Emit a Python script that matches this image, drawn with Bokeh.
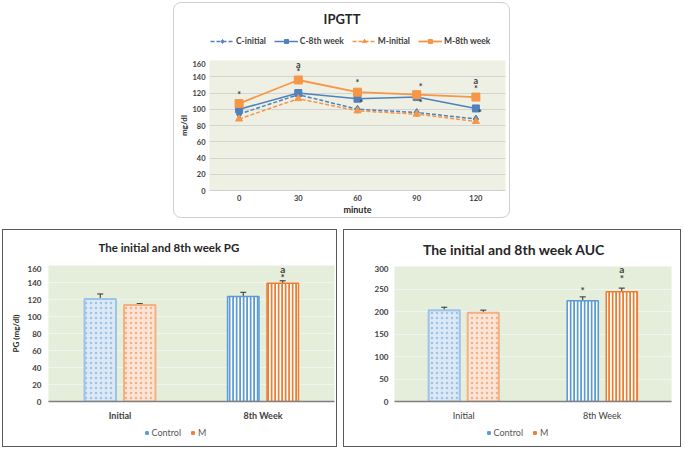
from bokeh.plotting import figure
from bokeh.models import (FactorRange, Legend, LegendItem, Whisker, ColumnDataSource,
                          Spacer, TeeHead, Range1d, Label)
from bokeh.layouts import column, row
from bokeh.transform import dodge
from bokeh.core.properties import value
from bokeh.embed import file_html
from bokeh.resources import INLINE

# ---------------- data ----------------
minutes = ["0", "30", "60", "90", "120"]
c_initial = [94, 118, 100, 96, 88]
c_8th = [100, 120, 113, 115, 101]
m_initial = [88, 113, 98, 94, 85]
m_8th = [107, 136, 121, 118, 115]

ipgtt_ann_x = ["0", "30", "30", "60", "120", "120"]
ipgtt_ann_y = [118, 155, 146, 133, 135, 126]
ipgtt_ann_text = ["*", "a", "*", "*", "a", "*"]
ipgtt_ann2_x = ["60", "90", "90", "120"]
ipgtt_ann2_y = [108, 128, 108, 96]
ipgtt_ann2_text = ["*", "*", "*", "*"]

groups = ["Initial", "8th Week"]
pg_control = [120.5, 123.5]
pg_control_err = [6, 5]
pg_m = [113.5, 139]
pg_m_err = [1.6, 3]
pg_ann_x = ["8th Week", "8th Week"]
pg_ann_y = [147, 156]
pg_ann_text = ["*", "a"]

auc_control = [203, 224]
auc_control_err = [6.5, 8.5]
auc_m = [197, 244]
auc_m_err = [6, 8]
auc_ctrl_ann_x = ["8th Week"]
auc_ctrl_ann_y = [247]
auc_ctrl_ann_text = ["*"]
auc_m_ann_x = ["8th Week", "8th Week"]
auc_m_ann_y = [275, 294]
auc_m_ann_text = ["*", "a"]

FONT = "Lato"
BLUE = "#4F81BD"
ORANGE = "#F79646"
BLUE2 = "#5B9BD5"
ORANGE2 = "#ED7D31"
TXT = "#404040"
OFF = [-10, -9]  # dummy legend-only points, outside the visible range


def blank_fig(w, h):
    f = figure(width=w, height=h, x_range=Range1d(0, 1), y_range=Range1d(0, 1),
               x_axis_location=None, y_axis_location=None, output_backend="svg",
               toolbar_location=None, title=None, min_border=0)
    f.outline_line_color = None
    f.background_fill_alpha = 0
    f.border_fill_alpha = 0
    f.xgrid.visible = False
    f.ygrid.visible = False
    return f


def style_axes(p, tick_size, tick_bold, tick_standoff, xlabel_size, xlabel_bold, xstandoff,
               xline, ylabel=None, xlabel=None, ylabel_standoff=2):
    for ax in p.yaxis:
        ax.axis_line_color = None
        ax.major_tick_line_color = None
        ax.minor_tick_line_color = None
        ax.major_tick_out = 0
        ax.major_tick_in = 0
        ax.minor_tick_out = 0
        ax.major_label_text_font = FONT
        ax.major_label_text_font_size = tick_size
        ax.major_label_text_font_style = "bold" if tick_bold else "normal"
        ax.major_label_text_color = TXT
        ax.major_label_standoff = tick_standoff
        if ylabel:
            ax.axis_label = ylabel
            ax.axis_label_text_font = FONT
            ax.axis_label_text_font_size = "8px"
            ax.axis_label_text_font_style = "bold"
            ax.axis_label_text_color = "#262626"
            ax.axis_label_standoff = ylabel_standoff
    for ax in p.xaxis:
        ax.axis_line_color = xline[0]
        ax.axis_line_width = xline[1]
        ax.major_tick_line_color = None
        ax.minor_tick_line_color = None
        ax.major_tick_out = 0
        ax.major_tick_in = 0
        ax.minor_tick_out = 0
        ax.major_label_text_font = FONT
        ax.major_label_text_font_size = xlabel_size
        ax.major_label_text_font_style = "bold" if xlabel_bold else "normal"
        ax.major_label_text_color = TXT
        ax.major_label_standoff = xstandoff
        if xlabel:
            ax.axis_label = xlabel
            ax.axis_label_text_font = FONT
            ax.axis_label_text_font_size = "9px"
            ax.axis_label_text_font_style = "bold"
            ax.axis_label_text_color = "#262626"
            ax.axis_label_standoff = 0


# ---------------- IPGTT ----------------
# header frame is aligned with the chart frame below (left edge 35 px in)
IW = 335
TOP_L = 35
hdr = blank_fig(IW, 57)
hdr.add_layout(Label(x=167.5 - TOP_L, y=42, x_units="screen", y_units="screen", text="IPGTT",
                     text_font=FONT, text_font_size="13px", text_font_style="bold",
                     text_color="#262626", text_align="center", text_baseline="middle"))
h1l = hdr.line(x=OFF, y=OFF, color=BLUE, line_width=1.5, line_dash="4 2")
h1m = hdr.scatter(x=OFF[:1], y=OFF[:1], marker="diamond", size=8, color=BLUE)
h2l = hdr.line(x=OFF, y=OFF, color=BLUE, line_width=1.5)
h2m = hdr.scatter(x=OFF[:1], y=OFF[:1], marker="square", size=7, color=BLUE)
h3l = hdr.line(x=OFF, y=OFF, color=ORANGE, line_width=1.5, line_dash="4 2")
h3m = hdr.scatter(x=OFF[:1], y=OFF[:1], marker="triangle", size=7, color=ORANGE)
h4l = hdr.line(x=OFF, y=OFF, color=ORANGE, line_width=1.8)
h4m = hdr.scatter(x=OFF[:1], y=OFF[:1], marker="square", size=8, color=ORANGE)
hdr.add_layout(Legend(items=[LegendItem(label="C-initial", renderers=[h1l, h1m]),
                             LegendItem(label="C-8th week", renderers=[h2l, h2m]),
                             LegendItem(label="M-initial", renderers=[h3l, h3m]),
                             LegendItem(label="M-8th week", renderers=[h4l, h4m])],
                      orientation="horizontal", location=(1, 13), border_line_color=None,
                      background_fill_alpha=0, label_text_font=FONT,
                      label_text_font_size="8.5px", label_text_font_style="bold",
                      label_text_color=TXT, glyph_width=24, glyph_height=10, label_height=12,
                      spacing=8, padding=0, margin=0, label_standoff=2))

top = figure(width=IW, height=157, x_range=FactorRange(*minutes), y_range=Range1d(0, 160),
             output_backend="svg", toolbar_location=None, title=None,
             min_border_left=TOP_L, min_border_right=4, min_border_top=0, min_border_bottom=24)
top.background_fill_color = "#EEF0E4"
top.border_fill_alpha = 0
top.xgrid.grid_line_color = None
top.ygrid.grid_line_color = "#D4D4D4"
top.outline_line_color = None

top.line(minutes, c_initial, color=BLUE, line_width=1.5, line_dash="4 2")
top.scatter(minutes, c_initial, marker="diamond", size=8, color=BLUE)
top.line(minutes, c_8th, color=BLUE, line_width=1.5)
top.scatter(minutes, c_8th, marker="square", size=7, color=BLUE)
top.line(minutes, m_initial, color=ORANGE, line_width=1.5, line_dash="4 2")
top.scatter(minutes, m_initial, marker="triangle", size=7, color=ORANGE)
top.line(minutes, m_8th, color=ORANGE, line_width=1.8)
top.scatter(minutes, m_8th, marker="square", size=8, color=ORANGE)

top.text(ipgtt_ann_x, ipgtt_ann_y, text=ipgtt_ann_text, text_font=value(FONT),
         text_font_size="9px", text_font_style="bold", text_color=TXT,
         text_align="center", text_baseline="middle")
top.text(ipgtt_ann2_x, ipgtt_ann2_y, text=ipgtt_ann2_text, text_font=value(FONT),
         text_font_size="9px", text_font_style="bold", text_color=TXT,
         text_align="center", text_baseline="middle", x_offset=4)
style_axes(top, "7.5px", True, 4, "7.5px", True, 4, ("#D0D0D0", 1),
           ylabel="mg/dl", xlabel="minute", ylabel_standoff=0)

top_panel = column(hdr, top, styles={"border": "1px solid #D0D0D0", "border-radius": "8px"})


# ---------------- bar charts ----------------
def bar_panel(w, title, title_size, title_x, title_y, ctrl, ctrl_err, mval, mval_err,
              ymax, ytick, ylabel, off, bw, borders, bold_cats, legend_x, lstandoff):
    L, R, T, B = borders
    # header/footer frames are aligned with the chart frame (left edge L px in)
    head = blank_fig(w, 35)
    head.add_layout(Label(x=title_x - L, y=title_y, x_units="screen", y_units="screen",
                          text=title, text_font=FONT, text_font_size=title_size,
                          text_font_style="bold", text_color="#262626",
                          text_align="center", text_baseline="middle"))

    p = figure(width=w, height=160, x_range=FactorRange(*groups), y_range=Range1d(0, ymax),
               output_backend="svg", toolbar_location=None, title=None,
               min_border_left=L, min_border_right=R, min_border_top=T, min_border_bottom=B)
    p.background_fill_color = "#E4EEDA"
    p.border_fill_alpha = 0
    p.xgrid.grid_line_color = None
    p.ygrid.grid_line_color = "#F2F4EF"
    p.outline_line_color = None
    p.yaxis.ticker = list(range(0, ymax + 1, ytick))

    src = ColumnDataSource(dict(cat=groups, ctrl=ctrl,
                                ctrl_lo=[v - e for v, e in zip(ctrl, ctrl_err)],
                                ctrl_hi=[v + e for v, e in zip(ctrl, ctrl_err)],
                                m=mval,
                                m_lo=[v - e for v, e in zip(mval, mval_err)],
                                m_hi=[v + e for v, e in zip(mval, mval_err)]))
    src_i = ColumnDataSource(dict(cat=groups[:1], ctrl=ctrl[:1], m=mval[:1]))
    src_w = ColumnDataSource(dict(cat=groups[1:], ctrl=ctrl[1:], m=mval[1:]))
    p.vbar(x=dodge("cat", -off, range=p.x_range), top="ctrl", width=bw, source=src_i,
           fill_color="#DCE8F6", line_color="#9DC3E6", line_width=2,
           hatch_pattern="dot", hatch_color="#9DC3E6", hatch_scale=5, hatch_weight=1)
    p.vbar(x=dodge("cat", off, range=p.x_range), top="m", width=bw, source=src_i,
           fill_color="#FCE4D6", line_color="#F4B183", line_width=2,
           hatch_pattern="dot", hatch_color="#F4B183", hatch_scale=5, hatch_weight=1)
    p.vbar(x=dodge("cat", -off, range=p.x_range), top="ctrl", width=bw, source=src_w,
           fill_color="white", line_color=BLUE2, line_width=1.5,
           hatch_pattern="vertical_line", hatch_color=BLUE2, hatch_scale=3.5, hatch_weight=2)
    p.vbar(x=dodge("cat", off, range=p.x_range), top="m", width=bw, source=src_w,
           fill_color="white", line_color=ORANGE2, line_width=1.5,
           hatch_pattern="vertical_line", hatch_color=ORANGE2, hatch_scale=3.5, hatch_weight=2)

    for base, lo, hi in ((-off, "ctrl_lo", "ctrl_hi"), (off, "m_lo", "m_hi")):
        p.add_layout(Whisker(source=src, base=dodge("cat", base, range=p.x_range),
                             lower=lo, upper=hi, line_color="#303030", line_width=1,
                             upper_head=TeeHead(size=6, line_color="#303030", line_width=1),
                             lower_head=TeeHead(size=6, line_color="#303030", line_width=1)))
    style_axes(p, "8px", True, lstandoff, "9px", bold_cats, 8, ("#808080", 1.5),
               ylabel=ylabel, ylabel_standoff=4)

    foot = blank_fig(w, 21)
    lc = foot.scatter(x=OFF[:1], y=OFF[:1], marker="square", size=7, color=BLUE2)
    lm = foot.scatter(x=OFF[:1], y=OFF[:1], marker="square", size=7, color=ORANGE2)
    foot.add_layout(Legend(items=[LegendItem(label="Control", renderers=[lc]),
                                  LegendItem(label="M", renderers=[lm])],
                           orientation="horizontal", location=(legend_x - L, 8),
                           border_line_color=None, background_fill_alpha=0,
                           label_text_font=FONT, label_text_font_size="9px",
                           label_text_color="#595959", glyph_width=7, glyph_height=7,
                           spacing=8, padding=0, margin=0, label_standoff=2,
                           label_height=10))
    panel = column(head, p, foot, styles={"border": "1.5px solid #595959"})
    return p, panel


pg, pg_panel = bar_panel(333, "The initial and 8th week PG", "11.5px", 165.5, 18.5,
                         pg_control, pg_control_err, pg_m, pg_m_err, 160, 20, "PG (mg/dl)",
                         0.138, 0.22, (45, 2, 0, 24), True, 139.5, 7)
pg.text(dodge("x", 0.138, range=pg.x_range), "y", text="t",
        source=ColumnDataSource(dict(x=pg_ann_x, y=pg_ann_y, t=pg_ann_text)),
        text_font=value(FONT), text_font_size="10px", text_font_style="bold", text_color=TXT,
        text_align="center", text_baseline="middle")

auc, auc_panel = bar_panel(336, "The initial and 8th week AUC", "14px", 169.5, 16.5,
                           auc_control, auc_control_err, auc_m, auc_m_err, 300, 50, None,
                           0.141, 0.225, (50, 9, 1, 24), False, 140.5, 6)
auc.text(dodge("x", -0.141, range=auc.x_range), "y", text="t",
         source=ColumnDataSource(dict(x=auc_ctrl_ann_x, y=auc_ctrl_ann_y, t=auc_ctrl_ann_text)),
         text_font=value(FONT), text_font_size="10px", text_font_style="bold", text_color=TXT,
         text_align="center", text_baseline="middle")
auc.text(dodge("x", 0.141, range=auc.x_range), "y", text="t",
         source=ColumnDataSource(dict(x=auc_m_ann_x, y=auc_m_ann_y, t=auc_m_ann_text)),
         text_font=value(FONT), text_font_size="10px", text_font_style="bold", text_color=TXT,
         text_align="center", text_baseline="middle")

layout = column(Spacer(width=680, height=2),
                row(Spacer(width=173, height=216), top_panel),
                Spacer(width=680, height=11),
                row(Spacer(width=2, height=219), pg_panel, Spacer(width=6, height=219),
                    auc_panel))

open("out.html", "w").write(file_html(layout, INLINE))
